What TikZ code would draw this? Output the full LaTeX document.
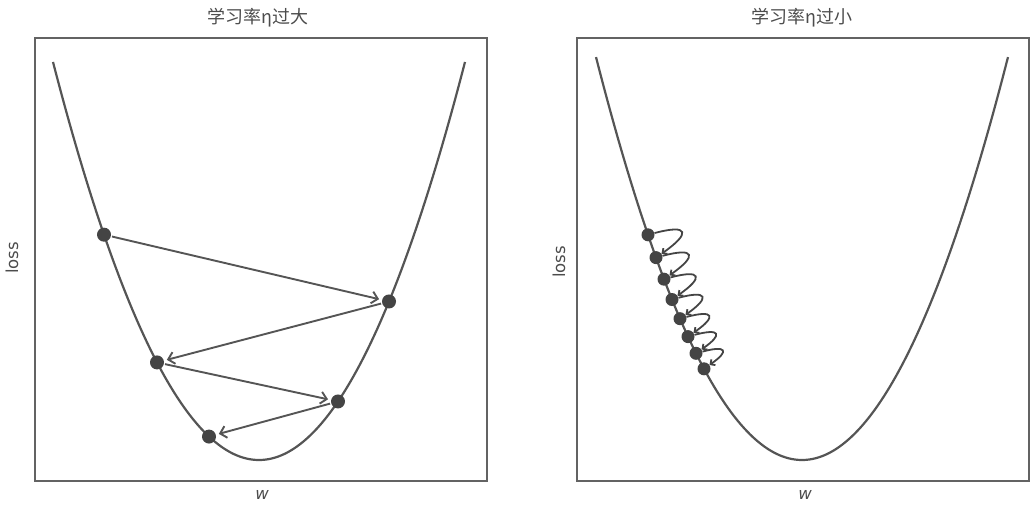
\documentclass[tikz,border=0pt]{standalone}
\usepackage{fontspec}
\setmainfont{DejaVu Sans}
\newfontfamily\cjk{Noto Sans CJK SC}
\usetikzlibrary{arrows.meta}
\definecolor{lncol}{HTML}{555555}
\definecolor{frcol}{HTML}{636363}
\definecolor{dtcol}{HTML}{444444}
\definecolor{txcol}{HTML}{4C4C4C}
\begin{document}
\begin{tikzpicture}[x=1pt,y=-1pt,
  declare function={fl(\x)=460-(0.09685*(\x-259))^2; fr(\x)=460-(0.09745*(\x-802))^2;},
  curve/.style={draw=lncol, line width=2.2pt},
  frame/.style={draw=frcol, line width=1.6pt},
  dot/.style={circle, fill=dtcol, inner sep=0pt, minimum size=14pt},
  sdot/.style={circle, fill=dtcol, inner sep=0pt, minimum size=13pt},
  arr/.style={draw=lncol, line width=1.9pt, -{Straight Barb[length=6pt,width=12pt]}, shorten >=3pt, shorten <=1pt},
  loopar/.style={draw=dtcol, line width=1.8pt, -{Straight Barb[length=3.5pt,width=7pt]}},
  title/.style={text=txcol, font=\fontsize{18}{21}\selectfont},
  axlab/.style={text=txcol, font=\fontsize{16.5}{19}\selectfont}]
\useasboundingbox (0,0) rectangle (1034,506);
% frames
\draw[frame] (35,38) rectangle (487,481);
\draw[frame] (577,38) rectangle (1029,481);
% titles
\node[title] (t1) at (258,18) {\cjk 学习率{\itshape η}过大};
\node[title] (t2) at (802,18) {\cjk 学习率{\itshape η}过小};
% axis labels
\node[axlab, rotate=90] (y1) at (12,258) {loss};
\node[axlab, rotate=90] (y2) at (559,262) {loss};
\node[axlab] (x1) at (262,495) {\itshape w};
\node[axlab] (x2) at (805,495) {\itshape w};
% curves
\draw[curve] plot[domain=53:465, samples=140, smooth] (\x, {fl(\x)});
\draw[curve] plot[domain=596:1008, samples=140, smooth] (\x, {fr(\x)});
% left dots
\node[dot] (a1) at (104,{fl(104)}) {};
\node[dot] (a2) at (389,{fl(389)}) {};
\node[dot] (a3) at (157,{fl(157)}) {};
\node[dot] (a4) at (338,{fl(338)}) {};
\node[dot] (a5) at (209,{fl(209)}) {};
\draw[arr] (a1) -- (a2);
\draw[arr] (a2) -- (a3);
\draw[arr] (a3) -- (a4);
\draw[arr] (a4) -- (a5);
% right dots
\node[sdot] (b1) at (648,{fr(648)}) {};
\node[sdot] (b2) at (656,{fr(656)}) {};
\node[sdot] (b3) at (664,{fr(664)}) {};
\node[sdot] (b4) at (672,{fr(672)}) {};
\node[sdot] (b5) at (680,{fr(680)}) {};
\node[sdot] (b6) at (688,{fr(688)}) {};
\node[sdot] (b7) at (696,{fr(696)}) {};
\node[sdot] (b8) at (704,{fr(704)}) {};
\foreach \i/\j in {1/2,2/3,3/4,4/5,5/6,6/7,7/8}
  \draw[loopar] (b\i) to[out=15,in=35,looseness=4.2] (b\j);
\end{tikzpicture}
\end{document}
